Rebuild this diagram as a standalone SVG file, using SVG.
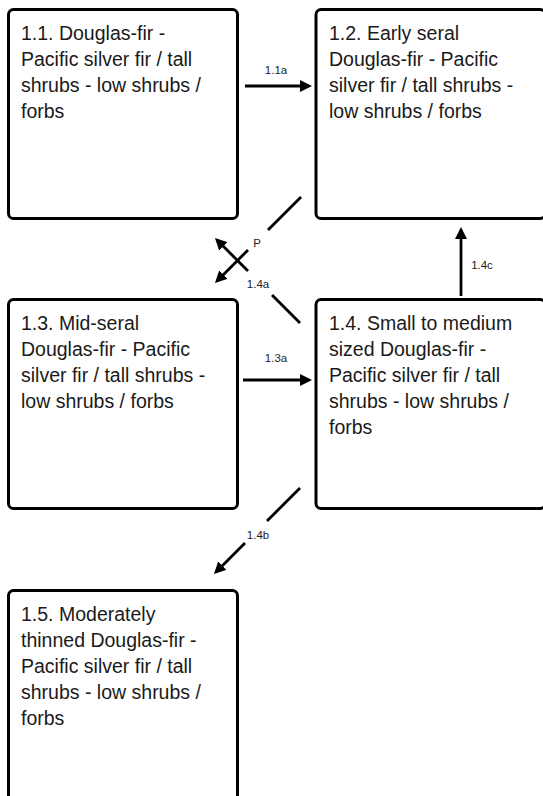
<svg xmlns="http://www.w3.org/2000/svg" width="543" height="796" viewBox="0 0 543 796">
<style>
.box{fill:#fff;stroke:#000;stroke-width:3}
.t{font-family:"Liberation Sans",Arial,sans-serif;font-size:19.5px;fill:#1a1a1a}
.c{stroke:#000;stroke-width:2.8;fill:none}
.l{font-family:"Liberation Sans",Arial,sans-serif;font-size:11.5px;fill:#222;text-anchor:middle}
</style>
<defs>
<marker id="ah" viewBox="0 0 12 12" refX="9" refY="6" markerWidth="12" markerHeight="12" markerUnits="userSpaceOnUse" orient="auto">
<path d="M0,0 L12,6 L0,12 z" fill="#000"/>
</marker>
</defs>
<rect width="543" height="796" fill="#fff"/>
<g id="n11">
<rect class="box" x="8.5" y="9.5" width="229" height="209" rx="5"/>
<text class="t" x="21" y="40">1.1. Douglas-fir -</text>
<text class="t" x="21" y="66">Pacific silver fir / tall</text>
<text class="t" x="21" y="92">shrubs - low shrubs /</text>
<text class="t" x="21" y="118">forbs</text>
</g>
<g id="n12">
<rect class="box" x="316" y="9.5" width="229" height="209" rx="5"/>
<text class="t" x="329" y="40">1.2. Early seral</text>
<text class="t" x="329" y="66">Douglas-fir - Pacific</text>
<text class="t" x="329" y="92">silver fir / tall shrubs -</text>
<text class="t" x="329" y="118">low shrubs / forbs</text>
</g>
<g id="n13">
<rect class="box" x="8.5" y="299.5" width="229" height="209" rx="5"/>
<text class="t" x="21" y="330">1.3. Mid-seral</text>
<text class="t" x="21" y="356">Douglas-fir - Pacific</text>
<text class="t" x="21" y="382">silver fir / tall shrubs -</text>
<text class="t" x="21" y="408">low shrubs / forbs</text>
</g>
<g id="n14">
<rect class="box" x="316" y="299.5" width="229" height="209" rx="5"/>
<text class="t" x="329" y="330">1.4. Small to medium</text>
<text class="t" x="329" y="356">sized Douglas-fir -</text>
<text class="t" x="329" y="382">Pacific silver fir / tall</text>
<text class="t" x="329" y="408">shrubs - low shrubs /</text>
<text class="t" x="329" y="434">forbs</text>
</g>
<g id="n15">
<rect class="box" x="8.5" y="590.5" width="229" height="220" rx="5"/>
<text class="t" x="21" y="621">1.5. Moderately</text>
<text class="t" x="21" y="647">thinned Douglas-fir -</text>
<text class="t" x="21" y="673">Pacific silver fir / tall</text>
<text class="t" x="21" y="699">shrubs - low shrubs /</text>
<text class="t" x="21" y="725">forbs</text>
</g>
<g id="connectors">
<line class="c" x1="245" y1="86" x2="309" y2="86" marker-end="url(#ah)"/>
<text class="l" x="276" y="74">1.1a</text>
<line class="c" x1="243" y1="380" x2="309" y2="380" marker-end="url(#ah)"/>
<text class="l" x="276" y="362">1.3a</text>
<line class="c" x1="461" y1="296" x2="461" y2="230" marker-end="url(#ah)"/>
<text class="l" x="482" y="269">1.4c</text>
<line class="c" x1="301" y1="197" x2="268" y2="230"/>
<line class="c" x1="248" y1="250" x2="217.1" y2="280.9" marker-end="url(#ah)"/>
<text class="l" x="257" y="247">P</text>
<line class="c" x1="300" y1="323" x2="272" y2="295"/>
<line class="c" x1="248" y1="271" x2="217.1" y2="240.1" marker-end="url(#ah)"/>
<text class="l" x="258" y="288">1.4a</text>
<line class="c" x1="300" y1="488" x2="267" y2="521"/>
<line class="c" x1="245" y1="543" x2="216.1" y2="571.9" marker-end="url(#ah)"/>
<text class="l" x="258" y="539">1.4b</text>
</g>
</svg>
